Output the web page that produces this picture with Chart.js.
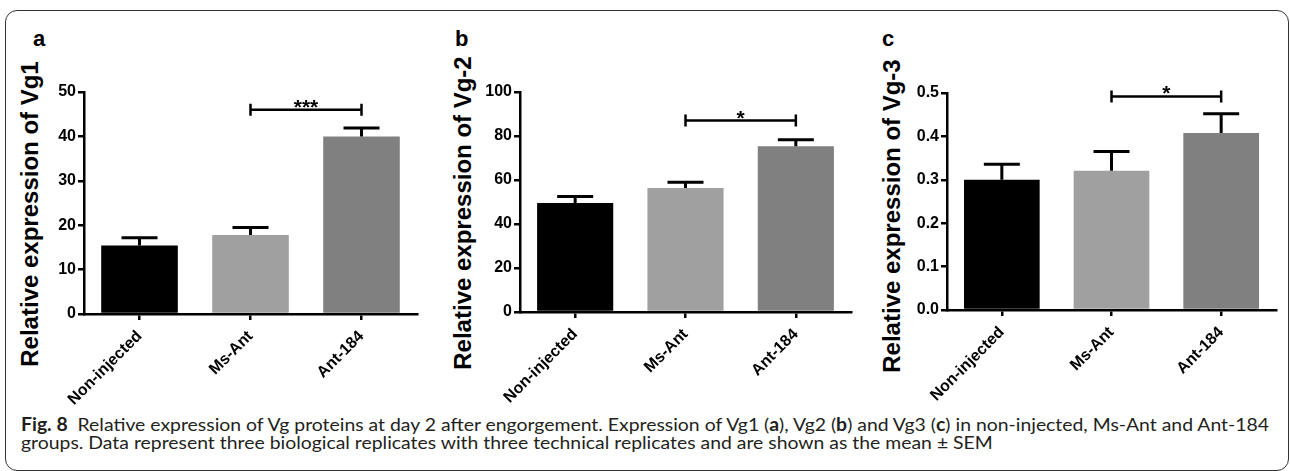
<!DOCTYPE html>
<html>
<head>
<meta charset="utf-8">
<script src="https://cdn.jsdelivr.net/npm/chart.js@4.4.0/dist/chart.umd.min.js"></script>
<style>
  body { margin: 0; width: 1290px; height: 471px; background: #fff; position: relative; overflow: hidden; font-family: "Liberation Sans", Arial, sans-serif; }
  .frame { position: absolute; left: 5px; top: 10px; width: 1284px; height: 461px; border: 1.5px solid #333; border-radius: 12px; box-sizing: border-box; }
  canvas { position: absolute; }
  .panel { position: absolute; font-weight: bold; font-size: 22px; line-height: 22px; color: #000; }
  .ytitle { position: absolute; font-weight: bold; font-size: 24px; line-height: 24px; color: #000; white-space: nowrap; transform: translate(-50%, -50%) rotate(-90deg); }
  .caption { position: absolute; left: 21px; top: 415px; font-family: Lato, "Open Sans", sans-serif; font-size: 18px; line-height: 18px; color: #231f20; white-space: nowrap; transform-origin: 0 0; }
</style>
</head>
<body>
<div class="frame"></div>
<div class="panel" style="left:33px; top:28px;">a</div>
<div class="panel" style="left:455px; top:28px;">b</div>
<div class="panel" style="left:882px; top:28px;">c</div>
<div class="ytitle" style="left:30px; top:214px;">Relative expression of Vg1</div>
<div class="ytitle" style="left:463px; top:213px;">Relative expression of Vg-2</div>
<div class="ytitle" style="left:892px; top:216px;">Relative expression of Vg-3</div>
<canvas id="chartA" width="413" height="370" style="left:12px; top:40px;"></canvas>
<canvas id="chartB" width="414" height="370" style="left:445px; top:40px;"></canvas>
<canvas id="chartC" width="410" height="370" style="left:874px; top:40px;"></canvas>
<div class="caption" id="caption">
  <span id="capLine1"><b>Fig. 8</b>&nbsp; Relative expression of Vg proteins at day 2 after engorgement. Expression of Vg1 (<b>a</b>), Vg2 (<b>b</b>) and Vg3 (<b>c</b>) in non-injected, Ms-Ant and Ant-184</span><br>
  groups. Data represent three biological replicates with three technical replicates and are shown as the mean ± SEM
</div>
<script>
const categories = ['Non-injected', 'Ms-Ant', 'Ant-184'];
const barColors = ['#000000', '#a0a0a0', '#808080'];

const vg1Mean = [15.4, 17.8, 40.0];
const vg1Sem = [1.8, 1.7, 1.9];
const vg1Ticks = [0, 10, 20, 30, 40, 50];
const vg1Sig = [1, 2, 46, '***'];

const vg2Mean = [49.5, 56.4, 75.3];
const vg2Sem = [3.0, 2.6, 3.0];
const vg2Ticks = [0, 20, 40, 60, 80, 100];
const vg2Sig = [1, 2, 87, '*'];

const vg3Mean = [0.300, 0.321, 0.408];
const vg3Sem = [0.036, 0.044, 0.044];
const vg3Ticks = [0.0, 0.1, 0.2, 0.3, 0.4, 0.5];
const vg3Sig = [1, 2, 0.492, '*'];

Chart.defaults.font.family = '"Liberation Sans", Arial, sans-serif';
Chart.defaults.color = '#000';

// error bars (mean + SEM, upper only) and the significance bracket
const errorBars = {
    id: 'errorBars',
    afterDatasetsDraw: function(chart, args, opts) {
        const ctx = chart.ctx;
        const y = chart.scales.y;
        const bars = chart.getDatasetMeta(0).data;
        const values = chart.data.datasets[0].data;
        ctx.save();
        ctx.strokeStyle = '#000';
        ctx.lineWidth = 3;
        bars.forEach(function(bar, i) {
            const base = y.getPixelForValue(values[i]);
            const top = y.getPixelForValue(values[i] + opts.sem[i]);
            ctx.beginPath();
            ctx.moveTo(bar.x, base);
            ctx.lineTo(bar.x, top);
            ctx.moveTo(bar.x - 18, top);
            ctx.lineTo(bar.x + 18, top);
            ctx.stroke();
        });

        const s = opts.sig;
        const x1 = bars[s[0]].x;
        const x2 = bars[s[1]].x;
        const yb = y.getPixelForValue(s[2]);
        ctx.lineWidth = 2.5;
        ctx.beginPath();
        ctx.moveTo(x1, yb - 6); ctx.lineTo(x1, yb + 6);
        ctx.moveTo(x1, yb); ctx.lineTo(x2, yb);
        ctx.moveTo(x2, yb - 6); ctx.lineTo(x2, yb + 6);
        ctx.stroke();
        ctx.fillStyle = '#000';
        ctx.font = 'bold 21px "Liberation Sans", Arial, sans-serif';
        ctx.textAlign = 'center';
        ctx.textBaseline = 'alphabetic';
        ctx.fillText(s[3], (x1 + x2) / 2, yb + 4);
        ctx.restore();
    }
};

function makeChart(id, values, sem, sig, ticks, decimals, box) {
    const ctx = document.getElementById(id).getContext('2d');
    return new Chart(ctx, {
        type: 'bar',
        data: {
            labels: categories,
            datasets: [{
                data: values,
                backgroundColor: barColors,
                borderWidth: 0,
                categoryPercentage: 1,
                barPercentage: 0.69
            }]
        },
        options: {
            responsive: false,
            animation: false,
            layout: { padding: { top: box.padTop, right: 8, left: 0, bottom: 0 } },
            plugins: {
                legend: { display: false },
                tooltip: { enabled: false },
                errorBars: { sem: sem, sig: sig }
            },
            scales: {
                x: {
                    grid: { offset: false, drawOnChartArea: false, drawTicks: true, tickLength: 6, color: '#000', lineWidth: 2.5 },
                    border: { display: true, color: '#000', width: 2.5 },
                    ticks: { minRotation: 45, maxRotation: 45, color: '#000', padding: 7, font: { size: 16, weight: 'bold' } },
                    afterFit: function(scale) { scale.height = box.xHeight; }
                },
                y: {
                    min: ticks[0],
                    max: ticks[ticks.length - 1],
                    grid: { drawOnChartArea: false, drawTicks: true, tickLength: 6, color: '#000', lineWidth: 2.5 },
                    border: { display: true, color: '#000', width: 2.5 },
                    ticks: {
                        stepSize: ticks[1] - ticks[0],
                        color: '#000',
                        padding: 2,
                        font: { size: 16, weight: 'bold' },
                        callback: function(v) { return Number(v).toFixed(decimals); }
                    },
                    afterFit: function(scale) { scale.width = box.yWidth; }
                }
            }
        },
        plugins: [errorBars]
    });
}

makeChart('chartA', vg1Mean, vg1Sem, vg1Sig, vg1Ticks, 0, { yWidth: 72, xHeight: 96, padTop: 52 });
makeChart('chartB', vg2Mean, vg2Sem, vg2Sig, vg2Ticks, 0, { yWidth: 75, xHeight: 98, padTop: 52 });
makeChart('chartC', vg3Mean, vg3Sem, vg3Sig, vg3Ticks, 1, { yWidth: 73, xHeight: 100, padTop: 53 });

// the caption's first line spans x 21..1269 in the figure
const line1 = document.getElementById('capLine1');
document.getElementById('caption').style.transform = 'scaleX(' + (1248 / line1.getBoundingClientRect().width) + ')';
</script>
</body>
</html>
